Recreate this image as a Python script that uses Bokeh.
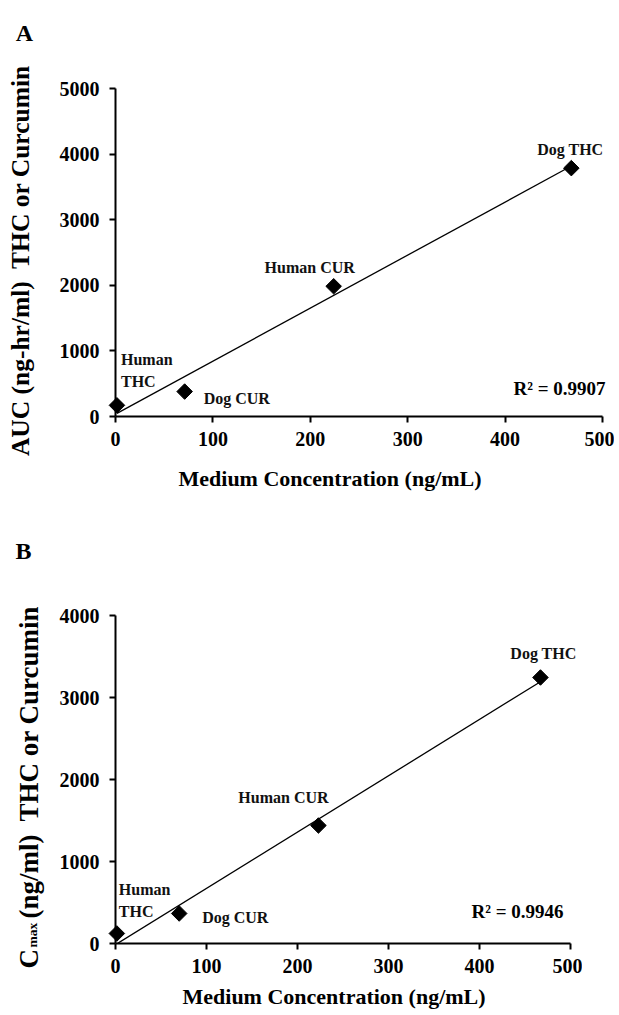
import numpy as np
from bokeh.plotting import figure
from bokeh.models import Range1d, ColumnDataSource
from bokeh.layouts import column
from bokeh.embed import file_html
from bokeh.resources import INLINE
from bokeh.core.properties import value

# ---------------- data ----------------
point_labels = ["Human\nTHC", "Dog CUR", "Human CUR", "Dog THC"]
x_a = [1.5, 71, 224, 468]
y_a = [170, 380, 1985, 3786]
x_b = [1.5, 70, 223, 467]
y_b = [122, 366, 1439, 3244]
x_ticks = [0, 100, 200, 300, 400, 500]
y_ticks_a = [0, 1000, 2000, 3000, 4000, 5000]
y_ticks_b = [0, 1000, 2000, 3000, 4000]
r2_a = "R² = 0.9907"
r2_b = "R² = 0.9946"
x_title = "Medium Concentration (ng/mL)"
y_title_a = "AUC (ng-hr/ml)\u00a0 THC or Curcumin"
y_title_b = ["C", "max", "(ng/ml)\u00a0 THC or Curcumin"]

# ---------------- styles ----------------
FONT = "Liberation Serif"
off_a = dict(dx=[4, 19, -24, -1], dy=[-15, 7, -19, -19],
             align=["left", "left", "center", "center"],
             base=["bottom", "middle", "middle", "middle"])
off_b = dict(dx=[2, 23, -35, 3], dy=[-13, 4, -28, -24],
             align=["left", "left", "center", "center"],
             base=["bottom", "middle", "middle", "middle"])


def add_text(p, dx, dy, text, size, align="center", baseline="middle", angle=0.0):
    """Text placed by pixel offsets from the axes' origin (dx right, dy up)."""
    r = p.text(x=[p.x_range.start], y=[p.y_range.start], text=[text],
               x_offset=dx, y_offset=-dy, angle=angle,
               text_align=align, text_baseline=baseline,
               text_font=value(FONT), text_font_style="bold",
               text_font_size=size, text_color="black")
    r.level = "overlay"
    return r


def make_panel(xs, ys, yticks, offs, width, height, mb, r2, r2_pos):
    p = figure(width=width, height=height, output_backend="svg",
               toolbar_location=None,
               x_range=Range1d(x_ticks[0], x_ticks[-1]),
               y_range=Range1d(yticks[0], yticks[-1]),
               min_border_left=mb[0], min_border_right=mb[1],
               min_border_top=mb[2], min_border_bottom=mb[3])
    p.grid.visible = False
    p.outline_line_color = None
    p.background_fill_color = "white"
    p.border_fill_color = "white"

    for ax in (p.xaxis[0], p.yaxis[0]):
        ax.axis_line_width = 2
        ax.axis_line_color = "black"
        ax.major_tick_line_width = 2
        ax.major_tick_out = 6
        ax.major_tick_in = 0
        ax.minor_tick_out = 0
        ax.minor_tick_in = 0
        ax.major_label_text_font = FONT
        ax.major_label_text_font_style = "bold"
        ax.major_label_text_font_size = "20px"
        ax.major_label_text_color = "black"
    p.xaxis.ticker = x_ticks
    p.yaxis.ticker = yticks
    p.xaxis.major_label_standoff = 9
    p.yaxis.major_label_standoff = 10

    # trendline (linear least squares fit of the plotted points)
    k, b = np.polyfit(xs, ys, 1)
    lx = np.array([min(xs), max(xs)])
    p.line(lx, k * lx + b, line_color="black", line_width=1.3)

    src = ColumnDataSource(dict(x=xs, y=ys, t=point_labels, dx=offs["dx"],
                                dy=offs["dy"], al=offs["align"], bl=offs["base"]))
    r = p.scatter("x", "y", source=src, marker="square", angle=np.pi / 4,
                  size=11, fill_color="black", line_color="black")
    r.level = "overlay"
    tr = p.text("x", "y", text="t", source=src, x_offset="dx", y_offset="dy",
                text_align="al", text_baseline="bl",
                text_font=value(FONT), text_font_style="bold",
                text_font_size="16px", text_color="#111111",
                text_line_height=1.3)
    tr.level = "overlay"

    add_text(p, r2_pos[0], r2_pos[1], r2, "19px", align="right")
    return p


# Panel A
pA = make_panel(x_a, y_a, y_ticks_a, off_a, 614, 503, (115, 12, 88, 87), r2_a, (490, 28))
add_text(pA, -91, 384, "A", "24px")
add_text(pA, -95, 156, y_title_a, "25.5px", angle=np.pi / 2)
add_text(pA, 63, -62, x_title, "22px", align="left")

# Panel B
pB = make_panel(x_b, y_b, y_ticks_b, off_b, 582, 510, (115, 12, 112, 70), r2_b, (448, 32))
add_text(pB, -92, 393, "B", "24px")
add_text(pB, -87, -25, y_title_b[0], "27px", align="left", baseline="alphabetic", angle=np.pi / 2)
add_text(pB, -83, -4, y_title_b[1], "13.5px", align="left", baseline="alphabetic", angle=np.pi / 2)
add_text(pB, -87, 25, y_title_b[2], "27px", align="left", baseline="alphabetic", angle=np.pi / 2)
add_text(pB, 67, -53, x_title, "22px", align="left")

layout = column(pA, pB, spacing=0)
open("out.html", "w").write(file_html(layout, INLINE))
